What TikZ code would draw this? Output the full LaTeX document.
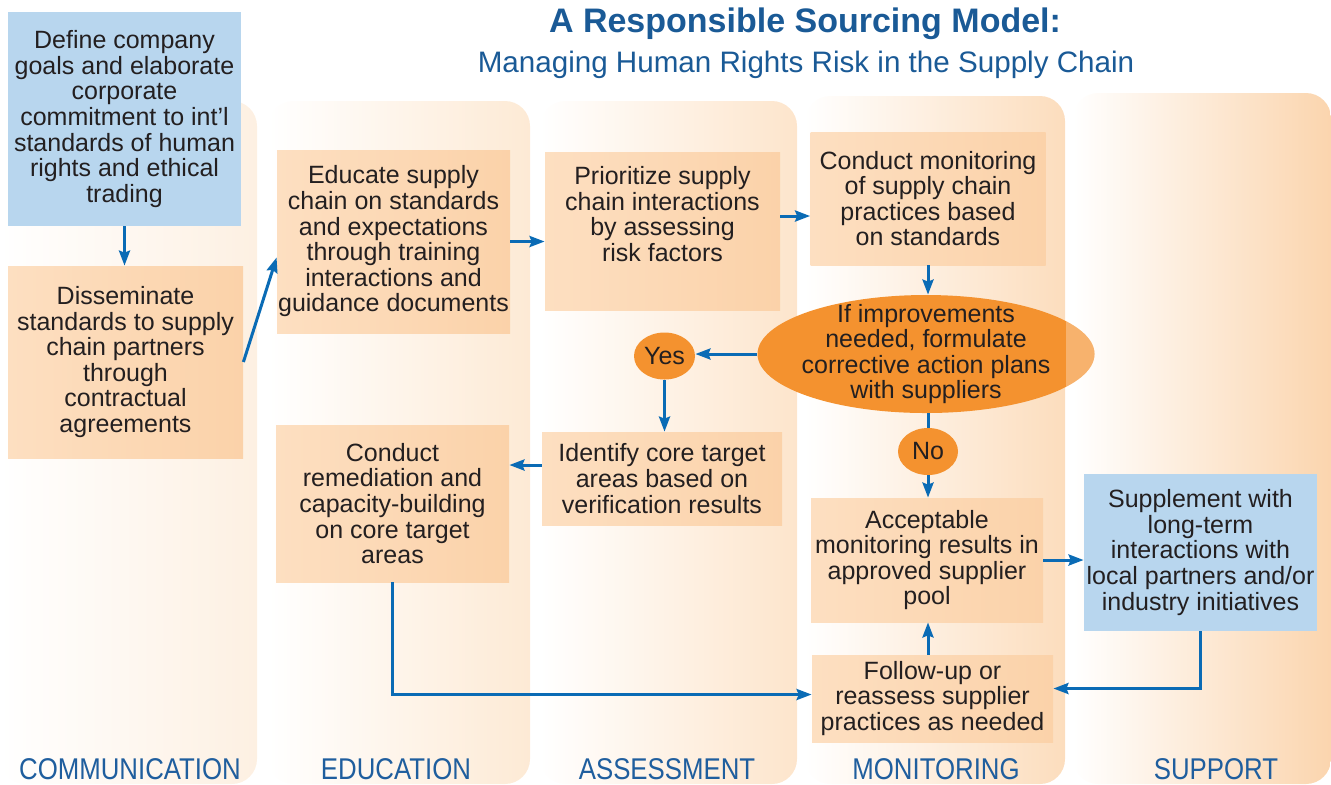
\documentclass[tikz,border=0pt]{standalone}
\usepackage{fontspec}
\setmainfont{Liberation Sans}
\newfontfamily\narrowsans{Liberation Sans}[FakeStretch=0.86]
\usepackage{tikz}
\usetikzlibrary{arrows.meta,shapes.geometric}
\definecolor{ink}{HTML}{231F20}
\definecolor{titleblue}{HTML}{1A5A96}
\definecolor{stageblue}{HTML}{1F5E9E}
\definecolor{flowblue}{HTML}{0A6BB5}
\definecolor{sky}{HTML}{B8D6EE}
\definecolor{peachL}{HTML}{FDDFC1}
\definecolor{peachR}{HTML}{FBD2A9}
\definecolor{tangerine}{HTML}{F4922F}
\definecolor{commTint}{HTML}{FDF0E2}
\definecolor{eduTint}{HTML}{FDEAD5}
\definecolor{assessTint}{HTML}{FDE5CC}
\definecolor{monTint}{HTML}{FCDDBD}
\definecolor{suppTint}{HTML}{FBD5AE}
\newcommand{\boxfont}{\fontsize{12.5pt}{12.8pt}\selectfont}
\tikzset{
  panel/.style={rounded corners=12.5pt, left color=white, right color=#1},
  card/.style={rectangle, inner sep=0pt, align=center, text=ink, font=\boxfont},
  peachbox/.style={card, left color=peachL, right color=peachR},
  skybox/.style={card, fill=sky},
  choice/.style={ellipse, fill=tangerine, inner sep=0pt, align=center, text=ink, font=\boxfont},
  flow/.style={-{Stealth[length=7.5pt,width=5.5pt,inset=1pt]}, draw=flowblue, line width=1.5pt},
  link/.style={draw=flowblue, line width=1.5pt},
  stagelbl/.style={font=\narrowsans\fontsize{15pt}{15pt}\selectfont, text=stageblue}
}

\begin{document}
\begin{tikzpicture}[x=0.5pt, y=-0.5pt]
  \useasboundingbox (0,0) rectangle (1331,784);

  % column panels, white to peach
  \foreach \xa/\xb/\yt/\c in {0/257/101/commTint, 268/530/101/eduTint, 540/797/101/assessTint,
                              805/1065/96/monTint, 1073/1331/93/suppTint}
    \shade[panel=\c] (\xa,\yt) rectangle (\xb,784);

  \node[font=\bfseries\fontsize{17pt}{17pt}\selectfont, text=titleblue] (title) at (805,24) {A Responsible Sourcing Model:};
  \node[font=\fontsize{14.8pt}{14.8pt}\selectfont, text=titleblue] (subtitle) at (806,65) {Managing Human Rights Risk in the Supply Chain};

  \node[skybox, minimum width=116.5pt, minimum height=107pt] (goals) at (124.5,119)
    {Define company\\goals and elaborate\\corporate\\commitment to int’l\\standards of human\\rights and ethical\\trading};
  \node[peachbox, minimum width=117.5pt, minimum height=96pt] (dissem) at (125.5,362)
    {Disseminate\\standards to supply\\chain partners\\through\\contractual\\agreements};
  \node[peachbox, minimum width=116.5pt, minimum height=91.5pt] (educate) at (393.5,241.5)
    {Educate supply\\chain on standards\\and expectations\\through training\\interactions and\\guidance documents};
  \node[peachbox, minimum width=117.5pt, minimum height=79pt, text depth=17pt] (prior) at (662.5,231)
    {Prioritize supply\\chain interactions\\by assessing\\risk factors};
  \node[peachbox, minimum width=117.5pt, minimum height=66.5pt] (monitor) at (928,198.5)
    {Conduct monitoring\\of supply chain\\practices based\\on standards};
  \node[choice, minimum width=168.5pt, minimum height=59pt, inner xsep=-3pt, inner ysep=-6pt] (decide) at (926,354)
    {If improvements\\needed, formulate\\corrective action plans\\with suppliers};
  \node[choice, minimum width=30.5pt, minimum height=23.5pt] (yes) at (664.5,356) {Yes};
  \node[choice, minimum width=30pt, minimum height=23.5pt] (no) at (928,451.5) {No};
  \node[peachbox, minimum width=120pt, minimum height=46.5pt] (identify) at (662,478.5)
    {Identify core target\\areas based on\\verification results};
  \node[peachbox, minimum width=116.5pt, minimum height=78.5pt] (remedy) at (392.5,503.5)
    {Conduct\\remediation and\\capacity-building\\on core target\\areas};
  \node[peachbox, minimum width=116pt, minimum height=62pt] (accept) at (927,560)
    {Acceptable\\monitoring results in\\approved supplier\\pool};
  \node[skybox, minimum width=116.5pt, minimum height=78.5pt] (supplement) at (1200.5,552.5)
    {Supplement with\\long-term\\interactions with\\local partners and/or\\industry initiatives};
  \node[peachbox, minimum width=120.5pt, minimum height=43.5pt] (followup) at (932.5,698.5)
    {Follow-up or\\reassess supplier\\practices as needed};

  % the ellipse fades where it runs into the support column
  \begin{scope}
    \clip (1066,0) rectangle (1331,784);
    \fill[white, fill opacity=0.3] (decide.center) ellipse [x radius=84.25pt, y radius=29.5pt];
  \end{scope}

  \coordinate (toMon) at ([yshift=7.5pt]prior.east);
  \coordinate (toRem) at ([yshift=6.75pt]identify.west);
  \draw[flow] (goals.south) -- (goals.south |- dissem.north);
  \draw[flow] (dissem.east) -- ([yshift=-8pt]educate.west);
  \draw[flow] (educate.east) -- (educate.east -| prior.west);
  \draw[flow] (toMon) -- (toMon -| monitor.west);
  \draw[flow] (monitor.south) -- (monitor.south |- decide.north);
  \draw[flow] (decide.west) -- (decide.west -| yes.east);
  \draw[flow] (yes.south) -- (yes.south |- identify.north);
  \draw[flow] (toRem) -- (toRem -| remedy.east);
  \draw[link] (decide.south -| no.north) -- (no.north);
  \draw[flow] (no.south) -- (no.south |- accept.north);
  \draw[flow] (accept.east) -- (accept.east -| supplement.west);
  \draw[flow] (remedy.south) |- ([yshift=2pt]followup.west);
  \draw[flow] (supplement.south) |- ([yshift=5pt]followup.east);
  \draw[flow] (followup.north -| no.south) -- (accept.south -| no.south);

  \foreach \x/\name/\t in {130/commLbl/COMMUNICATION, 396/eduLbl/EDUCATION, 667/assessLbl/ASSESSMENT,
                           936/monLbl/MONITORING, 1216/suppLbl/SUPPORT}
    \node[stagelbl, anchor=base] (\name) at (\x,779) {\t};
\end{tikzpicture}
\end{document}
